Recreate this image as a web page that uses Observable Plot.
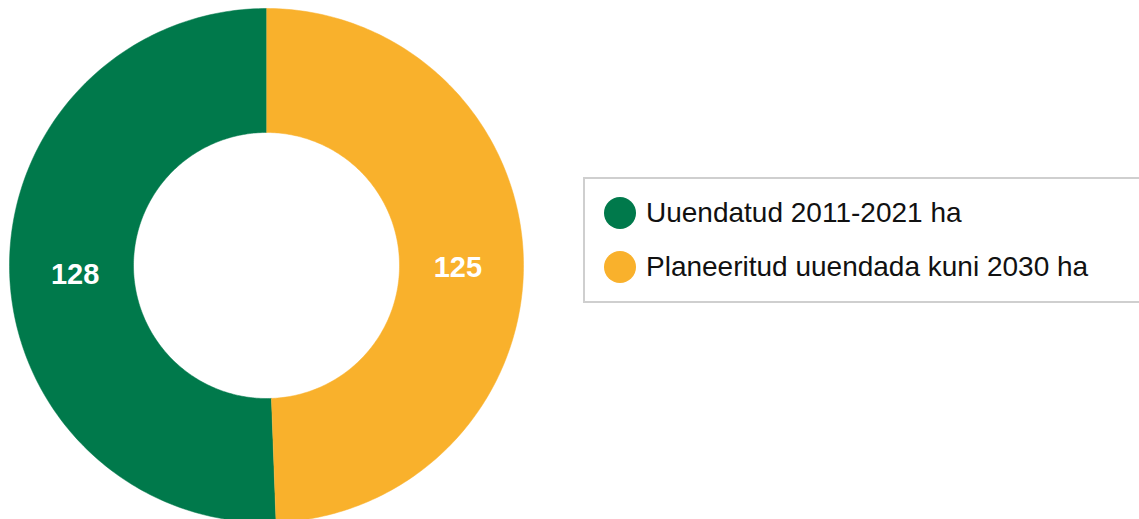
<!DOCTYPE html>
<html>
<head>
<meta charset="utf-8">
<script src="https://cdn.jsdelivr.net/npm/d3@7"></script>
<script src="https://cdn.jsdelivr.net/npm/@observablehq/plot@0.6"></script>
<style>
  html, body { margin: 0; padding: 0; background: #fff; width: 1139px; height: 519px; overflow: hidden; }
  #wrap { position: relative; width: 1139px; height: 519px; }
  #chart { position: absolute; left: 0; top: 0; }
  #legend {
    position: absolute; left: 583px; top: 177px; width: 600px; height: 122px;
    border: 2px solid #cfcfcf; box-sizing: content-box;
    font-family: "Liberation Sans", Arial, sans-serif;
    font-size: 28px; color: #111;
  }
  .item { position: absolute; left: 19px; display: flex; align-items: center; height: 34px; }
  .sw { width: 32px; height: 32px; border-radius: 50%; margin-right: 10px; flex: none; }
</style>
</head>
<body>
<div id="wrap">
  <div id="chart"></div>
  <div id="legend"></div>
</div>
<script>
const categories = ["Uuendatud 2011-2021 ha", "Planeeritud uuendada kuni 2030 ha"];
const values = [128, 125];
const colors = ["#00794B", "#F9B12C"];

const innerRatio = 133 / 257;
const total = d3.sum(values);
const start = -2 * Math.PI * values[0] / total;
const pie = d3.pie().sort(null).startAngle(start).endAngle(start + 2 * Math.PI);
const arcs = pie(values);

// Build polygon outlines for each slice (in unit-radius coordinates)
const rows = [];
arcs.forEach((a, i) => {
  const n = 200;
  for (let k = 0; k <= n; k++) {
    const t = a.startAngle + (a.endAngle - a.startAngle) * k / n;
    rows.push({cat: categories[i], x: Math.sin(t), y: Math.cos(t)});
  }
  for (let k = n; k >= 0; k--) {
    const t = a.startAngle + (a.endAngle - a.startAngle) * k / n;
    rows.push({cat: categories[i], x: innerRatio * Math.sin(t), y: innerRatio * Math.cos(t)});
  }
});

const labels = arcs.map((a, i) => {
  const m = (a.startAngle + a.endAngle) / 2;
  const r = 0.745;
  return {cat: categories[i], value: values[i], x: r * Math.sin(m), y: r * Math.cos(m)};
});

const plot = Plot.plot({
  width: 540,
  height: 519,
  margin: 0,
  x: {domain: [-1, 1], range: [9, 523], axis: null},
  y: {domain: [-1, 1], range: [522, 8], axis: null},
  color: {domain: categories, range: colors},
  marks: [
    ...categories.map((c, i) => Plot.line(rows.filter(d => d.cat === c), {
      x: "x", y: "y", fill: colors[i], stroke: colors[i], strokeWidth: 0.5, curve: "linear"
    })),
    Plot.text(labels, {
      x: "x", y: "y", text: d => String(d.value), fill: "white",
      fontSize: 29, fontWeight: "bold", dy: 6,
      fontFamily: "Liberation Sans, Arial, sans-serif"
    })
  ]
});
document.getElementById("chart").appendChild(plot);

const legend = document.getElementById("legend");
categories.forEach((c, i) => {
  const it = document.createElement("div");
  it.className = "item";
  it.style.top = (17 + i * 54) + "px";
  const sw = document.createElement("span");
  sw.className = "sw";
  sw.style.background = colors[i];
  const tx = document.createElement("span");
  tx.textContent = c;
  it.appendChild(sw);
  it.appendChild(tx);
  legend.appendChild(it);
});
</script>
</body>
</html>
